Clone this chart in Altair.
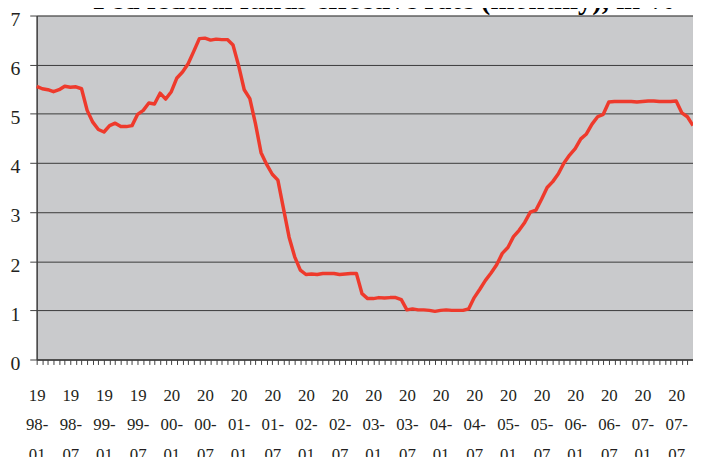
import json
import altair as alt
import pandas as pd

title_text = "Fed federal funds effective rate (monthly), in %"

months = pd.period_range("1998-01", "2007-10", freq="M").strftime("%Y-%m").tolist()

rates_1998 = [5.56, 5.51, 5.49, 5.45, 5.49, 5.56, 5.54, 5.55, 5.51, 5.07, 4.83, 4.68]
rates_1999 = [4.63, 4.76, 4.81, 4.74, 4.74, 4.76, 4.99, 5.07, 5.22, 5.20, 5.42, 5.30]
rates_2000 = [5.45, 5.73, 5.85, 6.02, 6.27, 6.53, 6.54, 6.50, 6.52, 6.51, 6.51, 6.40]
rates_2001 = [5.98, 5.49, 5.31, 4.80, 4.21, 3.97, 3.77, 3.65, 3.07, 2.49, 2.09, 1.82]
rates_2002 = [1.73, 1.74, 1.73, 1.75, 1.75, 1.75, 1.73, 1.74, 1.75, 1.75, 1.34, 1.24]
rates_2003 = [1.24, 1.26, 1.25, 1.26, 1.26, 1.22, 1.01, 1.03, 1.01, 1.01, 1.00, 0.98]
rates_2004 = [1.00, 1.01, 1.00, 1.00, 1.00, 1.03, 1.26, 1.43, 1.61, 1.76, 1.93, 2.16]
rates_2005 = [2.28, 2.50, 2.63, 2.79, 3.00, 3.04, 3.26, 3.50, 3.62, 3.78, 4.00, 4.16]
rates_2006 = [4.29, 4.49, 4.59, 4.79, 4.94, 4.99, 5.24, 5.25, 5.25, 5.25, 5.25, 5.24]
rates_2007 = [5.25, 5.26, 5.26, 5.25, 5.25, 5.25, 5.26, 5.02, 4.94, 4.76]

rates = (rates_1998 + rates_1999 + rates_2000 + rates_2001 + rates_2002
         + rates_2003 + rates_2004 + rates_2005 + rates_2006 + rates_2007)

y_ticks = [0, 1, 2, 3, 4, 5, 6, 7]

df = pd.DataFrame({"idx": list(range(len(months))), "month": months, "rate": rates})

# three-line labels every 6 months, e.g. "19" / "98-" / "01"
tick_labels = [[m[:2], m[2:4] + "-", m[5:7]] if i % 6 == 0 else "" for i, m in enumerate(months)]
label_expr = json.dumps(tick_labels) + "[datum.value]"

n = len(months)
serif = "Liberation Serif"

line = alt.Chart(df).mark_line(color="#ee3a2c", strokeWidth=3.5, strokeJoin="round").encode(
    x=alt.X(
        "idx:Q",
        scale=alt.Scale(domain=[0, n - 1], nice=False, zero=False),
        axis=alt.Axis(
            values=list(range(n)),
            labelExpr=label_expr,
            title=None,
            grid=False,
            tickSize=5,
            tickColor="#404040",
            domainColor="#404040",
            domainWidth=1.5,
            labelFont=serif,
            labelFontSize=17,
            labelColor="#231f20",
            labelLineHeight=30,
            labelBaseline="top",
            labelPadding=23,
            labelOverlap=False,
            labelFlush=False,
            labelBound=False,
        ),
    ),
    y=alt.Y(
        "rate:Q",
        scale=alt.Scale(domain=[0, 7], nice=False),
        axis=alt.Axis(
            values=y_ticks,
            title=None,
            grid=True,
            gridColor="#3a3a3a",
            gridWidth=1,
            tickSize=7,
            tickColor="#404040",
            domainColor="#404040",
            domainWidth=1.5,
            labelFont=serif,
            labelFontSize=20,
            labelColor="#231f20",
            labelPadding=10,
            labelOffset=4,
        ),
    ),
)

title = alt.Chart(pd.DataFrame({"t": [title_text]})).mark_text(
    font=serif, fontSize=29, fontWeight="bold", color="#000000",
    align="center", baseline="alphabetic",
).encode(x=alt.value(352), y=alt.value(-7), text="t:N")

chart = alt.layer(line, title).properties(
    width=664, height=348,
    autosize=alt.AutoSizeParams(type="none"),
    padding={"left": 29, "top": 5, "right": 0, "bottom": 96},
).configure_view(fill="#c9cacc", stroke="#a8a8a8", strokeWidth=1)

chart.save("out.html", embed_options={"renderer": "svg", "actions": False})
